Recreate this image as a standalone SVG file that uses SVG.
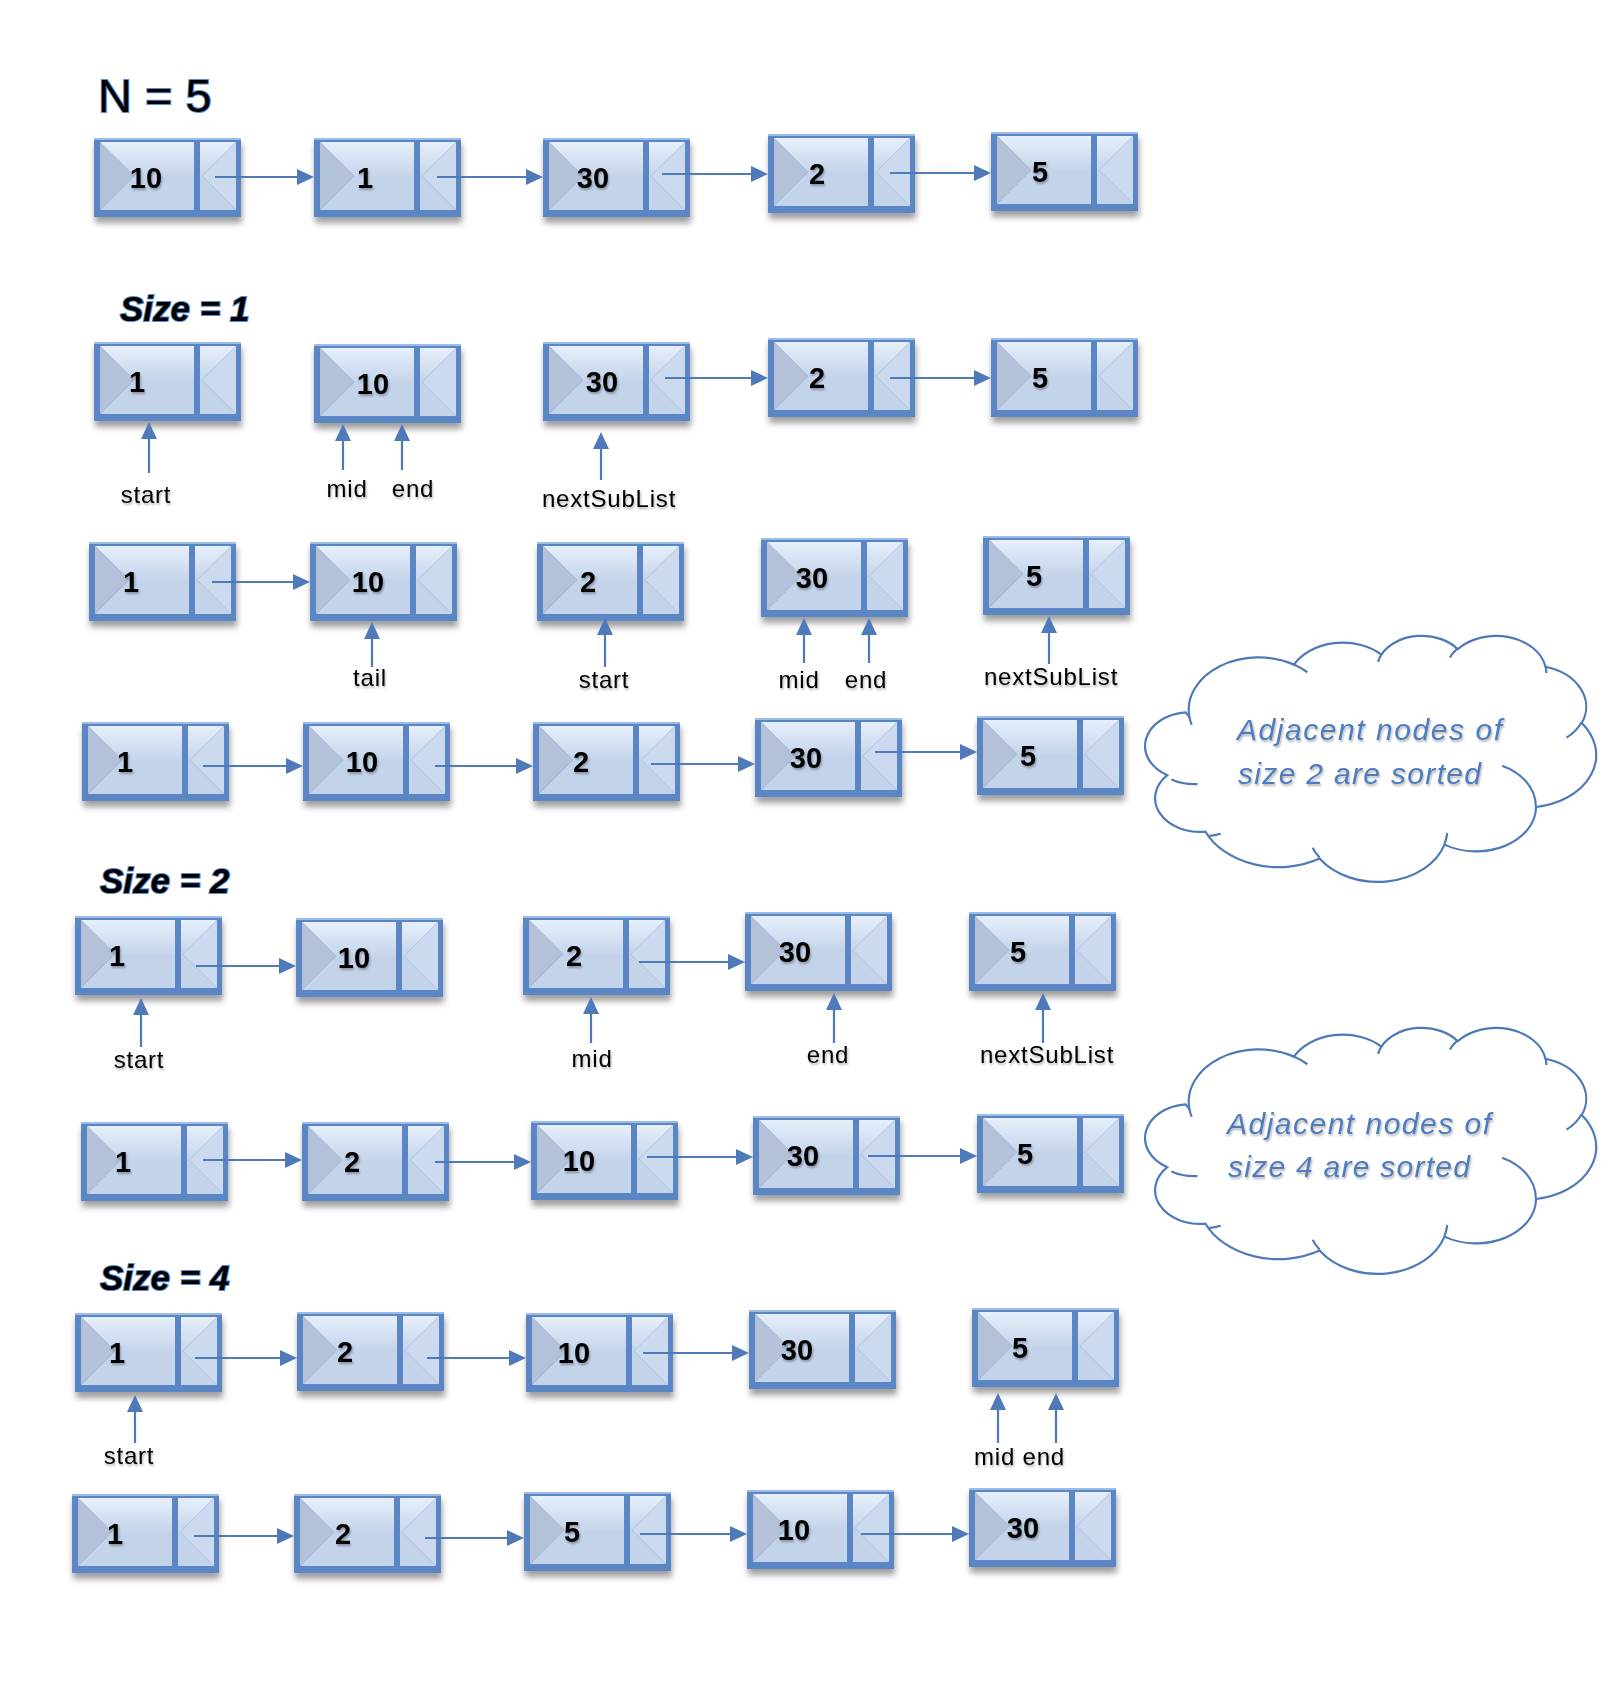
<svg xmlns="http://www.w3.org/2000/svg" width="1624" height="1682" viewBox="0 0 1624 1682">
<style>
.num{font-family:"Liberation Sans",Arial,sans-serif;font-weight:bold;font-size:29px;fill:#000;text-anchor:middle}
.lbl{font-family:"Liberation Sans",Arial,sans-serif;font-size:24px;letter-spacing:0.8px;fill:#000;text-anchor:middle}
.title{font-family:"Liberation Sans",Arial,sans-serif;fill:#000;stroke:#5f8cca;stroke-width:2;paint-order:stroke}
.size{font-weight:bold;font-style:italic;font-size:35px}
.conn line{stroke:#4e7ab9;stroke-width:2.2;fill:none;marker-end:url(#ah)}
.ctxt{font-family:"Liberation Sans",Arial,sans-serif;font-style:italic;font-size:30px;fill:#4f7cbf}
</style>
<defs>
<linearGradient id="gTop" x1="0" y1="0" x2="0" y2="1">
<stop offset="0" stop-color="#e6effb"/>
<stop offset="1" stop-color="#c6d5eb"/>
</linearGradient>
<filter id="sh" x="-10%" y="-20%" width="125%" height="160%">
<feDropShadow dx="1" dy="6" stdDeviation="3" flood-color="#000" flood-opacity="0.38"/>
</filter>
<filter id="tsh" x="-20%" y="-20%" width="150%" height="160%">
<feDropShadow dx="1" dy="2" stdDeviation="1.2" flood-color="#000" flood-opacity="0.3"/>
</filter>
<marker id="ah" markerWidth="17" markerHeight="16" refX="7" refY="8" orient="auto" markerUnits="userSpaceOnUse">
<path d="M0,0 L17,8 L0,16 Z" fill="#4e7ab9"/>
</marker>
<g id="nodebox">
<rect x="0" y="0" width="147" height="79" fill="#5a86c5"/>
<rect x="0" y="0" width="147" height="2" fill="#9ebde6"/>
<polygon points="6,4 142,4 108,38 40,38" fill="url(#gTop)"/>
<polygon points="6,72 40,38 108,38 142,72" fill="#c3d3ea"/>
<polygon points="6,4 40,38 6,72" fill="#b3c2d8"/>
<polygon points="142,4 108,38 142,72" fill="#cbdaef"/>
<rect x="100" y="4" width="6" height="68" fill="#5a86c5"/>
</g>
<g id="cloudshape">
<path vector-effect="non-scaling-stroke" fill="#fff" stroke="#4e7ab9" stroke-width="2.2" d="M3900 14370 A6753 9190 0 0 1 14005 5202 A5333 7267 0 0 1 22456 3432 A4365 5945 0 0 1 29833 2480 A4857 6595 0 0 1 38318 5575 A5333 7273 0 0 1 41819 15459 A6775 9220 0 0 1 37405 30202 A5785 7867 0 0 1 28556 36812 A6752 9215 0 0 1 16481 39264 A7720 10543 0 0 1 5459 34541 A4360 5918 0 0 1 1768 24619 A4345 5945 0 0 1 3518 13575 Z"/>
<path vector-effect="non-scaling-stroke" fill="none" stroke="#4e7ab9" stroke-width="2.2" d="M4693 26177 A4345 5945 0 0 1 2161 25380 M6928 34899 A4360 5918 0 0 1 5819 35281 M16478 39090 A6752 9215 0 0 1 15810 37350 M28827 34751 A6752 9215 0 0 1 28561 36659 M34129 22954 A5785 7867 0 0 1 37380 30090 M41798 15354 A5333 7273 0 0 1 40349 18031 M38324 5426 A4857 6595 0 0 1 38400 6689 M29078 3952 A4857 6595 0 0 1 29820 2340 M22141 4720 A4365 5945 0 0 1 22500 3330 M14000 5192 A6753 9190 0 0 1 15301 6541 M4127 15789 A6753 9190 0 0 1 3901 14371"/>
</g>
</defs>
<rect width="1624" height="1682" fill="#fff"/>

<text class="title" x="98" y="112" font-size="47">N = 5</text>
<text class="title size" x="120" y="321">Size = 1</text>
<text class="title size" x="100" y="893">Size = 2</text>
<text class="title size" x="100" y="1290">Size = 4</text>

<g id="row-a">
<g id="a1"><use href="#nodebox" x="94" y="138" filter="url(#sh)"/><text class="num" x="146" y="188" filter="url(#tsh)">10</text></g>
<g id="a2"><use href="#nodebox" x="314" y="138" filter="url(#sh)"/><text class="num" x="365" y="188" filter="url(#tsh)">1</text></g>
<g id="a3"><use href="#nodebox" x="543" y="138" filter="url(#sh)"/><text class="num" x="593" y="188" filter="url(#tsh)">30</text></g>
<g id="a4"><use href="#nodebox" x="768" y="134" filter="url(#sh)"/><text class="num" x="817" y="184" filter="url(#tsh)">2</text></g>
<g id="a5"><use href="#nodebox" x="991" y="132" filter="url(#sh)"/><text class="num" x="1040" y="182" filter="url(#tsh)">5</text></g>
</g>
<g id="row-b">
<g id="b1"><use href="#nodebox" x="94" y="342" filter="url(#sh)"/><text class="num" x="137" y="392" filter="url(#tsh)">1</text></g>
<g id="b2"><use href="#nodebox" x="314" y="344" filter="url(#sh)"/><text class="num" x="373" y="394" filter="url(#tsh)">10</text></g>
<g id="b3"><use href="#nodebox" x="543" y="342" filter="url(#sh)"/><text class="num" x="602" y="392" filter="url(#tsh)">30</text></g>
<g id="b4"><use href="#nodebox" x="768" y="338" filter="url(#sh)"/><text class="num" x="817" y="388" filter="url(#tsh)">2</text></g>
<g id="b5"><use href="#nodebox" x="991" y="338" filter="url(#sh)"/><text class="num" x="1040" y="388" filter="url(#tsh)">5</text></g>
</g>
<g id="row-c">
<g id="c1"><use href="#nodebox" x="89" y="542" filter="url(#sh)"/><text class="num" x="131" y="592" filter="url(#tsh)">1</text></g>
<g id="c2"><use href="#nodebox" x="310" y="542" filter="url(#sh)"/><text class="num" x="368" y="592" filter="url(#tsh)">10</text></g>
<g id="c3"><use href="#nodebox" x="537" y="542" filter="url(#sh)"/><text class="num" x="588" y="592" filter="url(#tsh)">2</text></g>
<g id="c4"><use href="#nodebox" x="761" y="538" filter="url(#sh)"/><text class="num" x="812" y="588" filter="url(#tsh)">30</text></g>
<g id="c5"><use href="#nodebox" x="983" y="536" filter="url(#sh)"/><text class="num" x="1034" y="586" filter="url(#tsh)">5</text></g>
</g>
<g id="row-d">
<g id="d1"><use href="#nodebox" x="82" y="722" filter="url(#sh)"/><text class="num" x="125" y="772" filter="url(#tsh)">1</text></g>
<g id="d2"><use href="#nodebox" x="303" y="722" filter="url(#sh)"/><text class="num" x="362" y="772" filter="url(#tsh)">10</text></g>
<g id="d3"><use href="#nodebox" x="533" y="722" filter="url(#sh)"/><text class="num" x="581" y="772" filter="url(#tsh)">2</text></g>
<g id="d4"><use href="#nodebox" x="755" y="718" filter="url(#sh)"/><text class="num" x="806" y="768" filter="url(#tsh)">30</text></g>
<g id="d5"><use href="#nodebox" x="977" y="716" filter="url(#sh)"/><text class="num" x="1028" y="766" filter="url(#tsh)">5</text></g>
</g>
<g id="row-e">
<g id="e1"><use href="#nodebox" x="75" y="916" filter="url(#sh)"/><text class="num" x="117" y="966" filter="url(#tsh)">1</text></g>
<g id="e2"><use href="#nodebox" x="296" y="918" filter="url(#sh)"/><text class="num" x="354" y="968" filter="url(#tsh)">10</text></g>
<g id="e3"><use href="#nodebox" x="523" y="916" filter="url(#sh)"/><text class="num" x="574" y="966" filter="url(#tsh)">2</text></g>
<g id="e4"><use href="#nodebox" x="745" y="912" filter="url(#sh)"/><text class="num" x="795" y="962" filter="url(#tsh)">30</text></g>
<g id="e5"><use href="#nodebox" x="969" y="912" filter="url(#sh)"/><text class="num" x="1018" y="962" filter="url(#tsh)">5</text></g>
</g>
<g id="row-f">
<g id="f1"><use href="#nodebox" x="81" y="1122" filter="url(#sh)"/><text class="num" x="123" y="1172" filter="url(#tsh)">1</text></g>
<g id="f2"><use href="#nodebox" x="302" y="1122" filter="url(#sh)"/><text class="num" x="352" y="1172" filter="url(#tsh)">2</text></g>
<g id="f3"><use href="#nodebox" x="531" y="1121" filter="url(#sh)"/><text class="num" x="579" y="1171" filter="url(#tsh)">10</text></g>
<g id="f4"><use href="#nodebox" x="753" y="1116" filter="url(#sh)"/><text class="num" x="803" y="1166" filter="url(#tsh)">30</text></g>
<g id="f5"><use href="#nodebox" x="977" y="1114" filter="url(#sh)"/><text class="num" x="1025" y="1164" filter="url(#tsh)">5</text></g>
</g>
<g id="row-g">
<g id="g1"><use href="#nodebox" x="75" y="1313" filter="url(#sh)"/><text class="num" x="117" y="1363" filter="url(#tsh)">1</text></g>
<g id="g2"><use href="#nodebox" x="297" y="1312" filter="url(#sh)"/><text class="num" x="345" y="1362" filter="url(#tsh)">2</text></g>
<g id="g3"><use href="#nodebox" x="526" y="1313" filter="url(#sh)"/><text class="num" x="574" y="1363" filter="url(#tsh)">10</text></g>
<g id="g4"><use href="#nodebox" x="749" y="1310" filter="url(#sh)"/><text class="num" x="797" y="1360" filter="url(#tsh)">30</text></g>
<g id="g5"><use href="#nodebox" x="972" y="1308" filter="url(#sh)"/><text class="num" x="1020" y="1358" filter="url(#tsh)">5</text></g>
</g>
<g id="row-h">
<g id="h1"><use href="#nodebox" x="72" y="1494" filter="url(#sh)"/><text class="num" x="115" y="1544" filter="url(#tsh)">1</text></g>
<g id="h2"><use href="#nodebox" x="294" y="1494" filter="url(#sh)"/><text class="num" x="343" y="1544" filter="url(#tsh)">2</text></g>
<g id="h3"><use href="#nodebox" x="524" y="1492" filter="url(#sh)"/><text class="num" x="572" y="1542" filter="url(#tsh)">5</text></g>
<g id="h4"><use href="#nodebox" x="747" y="1490" filter="url(#sh)"/><text class="num" x="794" y="1540" filter="url(#tsh)">10</text></g>
<g id="h5"><use href="#nodebox" x="969" y="1488" filter="url(#sh)"/><text class="num" x="1023" y="1538" filter="url(#tsh)">30</text></g>
</g>

<g class="conn" id="connectors">
<line x1="215" y1="177" x2="304" y2="177"/>
<line x1="437" y1="177" x2="533" y2="177"/>
<line x1="662" y1="174" x2="758" y2="174"/>
<line x1="890" y1="173" x2="981" y2="173"/>
<line x1="665" y1="378" x2="758" y2="378"/>
<line x1="890" y1="378" x2="981" y2="378"/>
<line x1="149" y1="473" x2="149" y2="432"/>
<line x1="343" y1="470" x2="343" y2="434"/>
<line x1="402" y1="470" x2="402" y2="434"/>
<line x1="601" y1="480" x2="601" y2="442"/>
<line x1="212" y1="582" x2="300" y2="582"/>
<line x1="372" y1="667" x2="372" y2="632"/>
<line x1="605" y1="667" x2="605" y2="628"/>
<line x1="804" y1="663" x2="804" y2="628"/>
<line x1="869" y1="663" x2="869" y2="628"/>
<line x1="1049" y1="664" x2="1049" y2="626"/>
<line x1="203" y1="766" x2="293" y2="766"/>
<line x1="435" y1="766" x2="523" y2="766"/>
<line x1="651" y1="764" x2="745" y2="764"/>
<line x1="875" y1="752" x2="967" y2="752"/>
<line x1="196" y1="966" x2="286" y2="966"/>
<line x1="639" y1="962" x2="735" y2="962"/>
<line x1="141" y1="1047" x2="141" y2="1008"/>
<line x1="591" y1="1043" x2="591" y2="1007"/>
<line x1="834" y1="1043" x2="834" y2="1003"/>
<line x1="1043" y1="1043" x2="1043" y2="1003"/>
<line x1="203" y1="1160" x2="292" y2="1160"/>
<line x1="435" y1="1162" x2="521" y2="1162"/>
<line x1="647" y1="1157" x2="743" y2="1157"/>
<line x1="868" y1="1156" x2="967" y2="1156"/>
<line x1="195" y1="1358" x2="287" y2="1358"/>
<line x1="427" y1="1358" x2="516" y2="1358"/>
<line x1="643" y1="1353" x2="739" y2="1353"/>
<line x1="135" y1="1443" x2="135" y2="1405"/>
<line x1="998" y1="1443" x2="998" y2="1403"/>
<line x1="1056" y1="1443" x2="1056" y2="1403"/>
<line x1="194" y1="1536" x2="284" y2="1536"/>
<line x1="425" y1="1538" x2="514" y2="1538"/>
<line x1="640" y1="1534" x2="737" y2="1534"/>
<line x1="861" y1="1534" x2="959" y2="1534"/>
</g>

<g id="labels" filter="url(#tsh)">
<text class="lbl" x="146" y="503">start</text>
<text class="lbl" x="347" y="497">mid</text>
<text class="lbl" x="413" y="497">end</text>
<text class="lbl" x="609" y="507">nextSubList</text>
<text class="lbl" x="370" y="686">tail</text>
<text class="lbl" x="604" y="688">start</text>
<text class="lbl" x="799" y="688">mid</text>
<text class="lbl" x="866" y="688">end</text>
<text class="lbl" x="1051" y="685">nextSubList</text>
<text class="lbl" x="139" y="1068">start</text>
<text class="lbl" x="592" y="1067">mid</text>
<text class="lbl" x="828" y="1063">end</text>
<text class="lbl" x="1047" y="1063">nextSubList</text>
<text class="lbl" x="129" y="1464">start</text>
<text class="lbl" x="974" y="1465" style="text-anchor:start">mid end</text>
</g>

<g id="cloud1">
<use href="#cloudshape" transform="translate(1149 635) scale(0.0103472 0.0056944)"/>
<text class="ctxt" x="1237" y="740" textLength="265" lengthAdjust="spacing" filter="url(#tsh)">Adjacent nodes of</text>
<text class="ctxt" x="1238" y="784" textLength="243" lengthAdjust="spacing" filter="url(#tsh)">size 2 are sorted</text>
</g>
<g id="cloud2">
<use href="#cloudshape" transform="translate(1149 1027) scale(0.0103472 0.0056944)"/>
<text class="ctxt" x="1227" y="1134" textLength="264" lengthAdjust="spacing" filter="url(#tsh)">Adjacent nodes of</text>
<text class="ctxt" x="1228" y="1177" textLength="242" lengthAdjust="spacing" filter="url(#tsh)">size 4 are sorted</text>
</g>
</svg>
